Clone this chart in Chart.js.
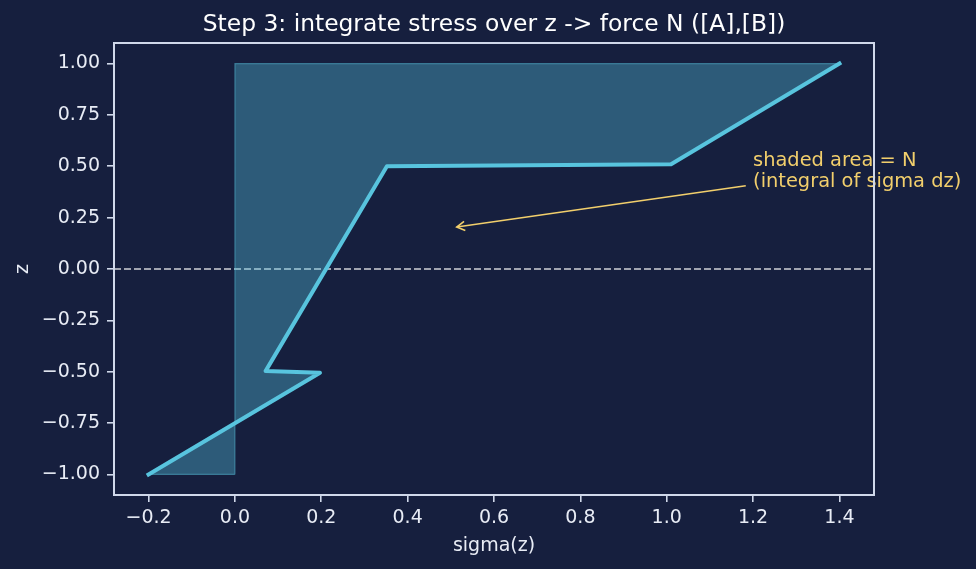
<!DOCTYPE html>
<html>
<head>
<meta charset="utf-8">
<title>Step 3</title>
<script src="https://cdn.jsdelivr.net/npm/chart.js@4.4.1/dist/chart.umd.min.js"></script>
<style>
    html, body { margin: 0; padding: 0; background: #161f3e; }
    #wrap { width: 976px; height: 569px; position: relative; }
</style>
</head>
<body>
<div id="wrap"><canvas id="stressChart"></canvas></div>
<script>
// stress profile sigma(z)
const sigmaVals = [-0.2, 0.197, 0.071, 0.352, 1.01, 1.4];
const zVals = [-1.0, -0.505, -0.497, 0.5, 0.51, 1.0];

const xTicks = [-0.2, 0.0, 0.2, 0.4, 0.6, 0.8, 1.0, 1.2, 1.4];
const yTicks = [-1.0, -0.75, -0.5, -0.25, 0.0, 0.25, 0.5, 0.75, 1.0];
const xRange = [-0.28, 1.48];
const yRange = [-1.1, 1.1];

// annotation
const noteLines = ['shaded area = N', '(integral of sigma dz)'];
const notePoint = [1.2, 0.40];
const arrowFrom = [1.183, 0.405];
const arrowTo = [0.5, 0.2];

const titleText = 'Step 3: integrate stress over z -> force N ([A],[B])';

const FONT = "'DejaVu Sans', sans-serif";
const SPINE = '#d0d8ea';
const TEXT = '#e8ecf5';
const LINE = '#58c4de';
const GOLD = '#f2cf6c';

const linePoints = sigmaVals.map((s, i) => ({ x: s, y: zVals[i] }));
// area between sigma = 0 and the profile
const areaPoints = [{ x: 0, y: zVals[0] }]
    .concat(linePoints)
    .concat([{ x: 0, y: zVals[zVals.length - 1] }, { x: 0, y: zVals[0] }]);

const fmtMinus = v => String(v).replace('-', '\u2212');

const extras = {
    id: 'extras',
    beforeDatasetsDraw(chart) {
        const { ctx, chartArea, scales } = chart;
        const y0 = scales.y.getPixelForValue(0);
        ctx.save();
        ctx.strokeStyle = 'rgba(255,255,255,0.8)';
        ctx.lineWidth = 1.3;
        ctx.setLineDash([7, 3]);
        ctx.beginPath();
        ctx.moveTo(chartArea.left, y0);
        ctx.lineTo(chartArea.right, y0);
        ctx.stroke();
        ctx.restore();
    },
    afterDraw(chart) {
        const { ctx, chartArea, scales } = chart;
        const x = scales.x, y = scales.y;
        ctx.save();

        // title
        ctx.fillStyle = '#ffffff';
        ctx.font = '23.4px ' + FONT;
        ctx.textAlign = 'center';
        ctx.textBaseline = 'alphabetic';
        ctx.fillText(titleText, (chartArea.left + chartArea.right) / 2, 31);

        // annotation text
        ctx.fillStyle = GOLD;
        ctx.font = '19.4px ' + FONT;
        ctx.textAlign = 'left';
        const tx = x.getPixelForValue(notePoint[0]);
        const ty = y.getPixelForValue(notePoint[1]);
        noteLines.forEach((t, i) => {
            ctx.fillText(t, tx, ty - (noteLines.length - 1 - i) * 21);
        });

        // arrow
        const ax = x.getPixelForValue(arrowFrom[0]), ay = y.getPixelForValue(arrowFrom[1]);
        let bx = x.getPixelForValue(arrowTo[0]), by = y.getPixelForValue(arrowTo[1]);
        const ang = Math.atan2(by - ay, bx - ax);
        bx -= Math.cos(ang) * 6;
        by -= Math.sin(ang) * 6;
        ctx.strokeStyle = GOLD;
        ctx.lineWidth = 1.6;
        ctx.beginPath();
        ctx.moveTo(ax, ay);
        ctx.lineTo(bx, by);
        ctx.stroke();
        const hl = 8, hw = 4.5;
        ctx.beginPath();
        ctx.moveTo(bx - Math.cos(ang) * hl - Math.sin(ang) * hw, by - Math.sin(ang) * hl + Math.cos(ang) * hw);
        ctx.lineTo(bx, by);
        ctx.lineTo(bx - Math.cos(ang) * hl + Math.sin(ang) * hw, by - Math.sin(ang) * hl - Math.cos(ang) * hw);
        ctx.stroke();

        // frame on top
        ctx.strokeStyle = SPINE;
        ctx.lineWidth = 2;
        ctx.strokeRect(chartArea.left, chartArea.top, chartArea.right - chartArea.left, chartArea.bottom - chartArea.top);
        ctx.restore();
    }
};

new Chart(document.getElementById('stressChart').getContext('2d'), {
    type: 'scatter',
    data: {
        datasets: [{
            label: 'sigma(z)',
            data: linePoints,
            showLine: true,
            borderColor: LINE,
            borderWidth: 4,
            borderJoinStyle: 'round',
            borderCapStyle: 'square',
            pointRadius: 0,
            tension: 0,
            fill: false
        }, {
            label: 'N',
            data: areaPoints,
            showLine: true,
            borderColor: 'rgba(88,196,222,0.45)',
            borderWidth: 1.2,
            backgroundColor: 'rgba(88,196,222,0.37)',
            pointRadius: 0,
            tension: 0,
            fill: 'shape'
        }]
    },
    options: {
        responsive: true,
        maintainAspectRatio: false,
        devicePixelRatio: 1,
        animation: false,
        layout: { padding: { top: 43, right: 102, left: 0, bottom: 0 } },
        plugins: {
            legend: { display: false },
            tooltip: { enabled: false },
            title: { display: false }
        },
        scales: {
            x: {
                type: 'linear',
                min: xRange[0],
                max: xRange[1],
                afterBuildTicks: s => { s.ticks = xTicks.map(v => ({ value: v })); },
                afterFit: s => { s.height = 74; },
                grid: { display: true, drawOnChartArea: false, drawTicks: true, tickLength: 7, color: SPINE, lineWidth: 1.6 },
                border: { display: true, color: SPINE, width: 2 },
                ticks: {
                    color: TEXT,
                    font: { family: FONT, size: 19 },
                    padding: 5,
                    maxRotation: 0,
                    callback: v => fmtMinus(v.toFixed(1))
                },
                title: {
                    display: true,
                    text: 'sigma(z)',
                    color: TEXT,
                    font: { family: FONT, size: 19 },
                    padding: { top: 12, bottom: 12 }
                }
            },
            y: {
                type: 'linear',
                min: yRange[0],
                max: yRange[1],
                afterBuildTicks: s => { s.ticks = yTicks.map(v => ({ value: v })); },
                afterFit: s => { s.width = 114; },
                grid: { display: true, drawOnChartArea: false, drawTicks: true, tickLength: 7, color: SPINE, lineWidth: 1.6 },
                border: { display: true, color: SPINE, width: 2 },
                ticks: {
                    color: TEXT,
                    font: { family: FONT, size: 19 },
                    padding: 7,
                    callback: v => fmtMinus(v.toFixed(2))
                },
                title: {
                    display: true,
                    text: 'z',
                    color: TEXT,
                    font: { family: FONT, size: 19 },
                    padding: { top: 12, bottom: 12 }
                }
            }
        }
    },
    plugins: [extras]
});
</script>
</body>
</html>
